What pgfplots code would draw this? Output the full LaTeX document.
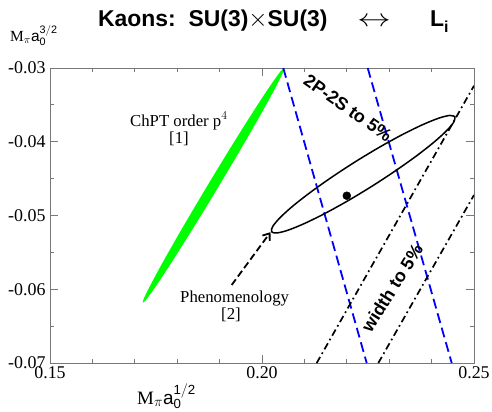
\documentclass[border=0pt]{standalone}
\usepackage{fontspec}
\setmainfont{Liberation Serif}
\setsansfont{Liberation Sans}
\usepackage{graphicx}
\usepackage{pgfplots}
\pgfplotsset{compat=1.18}
\usetikzlibrary{arrows.meta}
\definecolor{lgreen}{RGB}{0,255,0}
\definecolor{axgray}{RGB}{120,120,120}
\begin{document}
\begin{tikzpicture}[x=1bp,y=1bp]
\path[use as bounding box] (-50,-48) rectangle (442,363);
\begin{axis}[
 at={(0,0)}, anchor=south west,
 scale only axis, width=424bp, height=295bp,
 xmin=0.15, xmax=0.25, ymin=-0.07, ymax=-0.03,
 scaled ticks=false,
 xtick={0.15,0.20,0.25}, xticklabels={0.15,0.20,0.25},
 ytick={-0.07,-0.06,-0.05,-0.04,-0.03}, yticklabels={-0.07,-0.06,-0.05,-0.04,-0.03},
 minor x tick num=4, minor y tick num=1,
 tick align=inside, major tick length=8bp, minor tick length=4bp,
 axis line style={axgray, line width=0.9bp},
 every tick/.style={axgray, line width=0.9bp},
 tick label style={font=\fontsize{18}{20}\selectfont},
 yticklabel style={xshift=-1bp},
 clip mode=individual,
]
% green ellipse (ChPT order p^4)
\addplot[fill=lgreen, draw=none, smooth, tension=0.5] coordinates {
(0.20521,-0.03000) (0.20491,-0.03063) (0.20349,-0.03231) (0.20105,-0.03491)
(0.19776,-0.03826) (0.19384,-0.04213) (0.18956,-0.04626) (0.18521,-0.05037)
(0.18109,-0.05417) (0.17748,-0.05741) (0.17463,-0.05987) (0.17272,-0.06137)
(0.17189,-0.06182) (0.17219,-0.06119) (0.17362,-0.05952) (0.17605,-0.05691)
(0.17934,-0.05356) (0.18326,-0.04969) (0.18754,-0.04556) (0.19189,-0.04145)
(0.19601,-0.03765) (0.19962,-0.03441) (0.20248,-0.03196) (0.20438,-0.03045)
(0.20521,-0.03000)} -- cycle;
% blue dashed 2P-2S band
\addplot[blue, line width=1.8bp, dash pattern=on 10bp off 5bp] coordinates {(0.20502,-0.03) (0.22469,-0.07)};
\addplot[blue, line width=1.8bp, dash pattern=on 10bp off 5bp] coordinates {(0.22493,-0.03) (0.24474,-0.07)};
% dash-dot width band
\addplot[black, line width=1.7bp, dash pattern=on 7bp off 3.5bp on 1.7bp off 3.5bp] coordinates {(0.21290,-0.07) (0.25,-0.03240)};
\addplot[black, line width=1.7bp, dash pattern=on 7bp off 3.5bp on 1.7bp off 3.5bp] coordinates {(0.22743,-0.07) (0.25,-0.04722)};
% black ellipse (phenomenology)
\addplot[black, line width=1.5bp, smooth, tension=0.5] coordinates {
(0.24552,-0.03660) (0.24526,-0.03731) (0.24354,-0.03850) (0.24049,-0.04009)
(0.23631,-0.04197) (0.23127,-0.04402) (0.22574,-0.04610) (0.22008,-0.04806)
(0.21468,-0.04977) (0.20991,-0.05111) (0.20609,-0.05200) (0.20348,-0.05237)
(0.20226,-0.05220) (0.20252,-0.05149) (0.20424,-0.05030) (0.20729,-0.04871)
(0.21148,-0.04683) (0.21651,-0.04478) (0.22204,-0.04270) (0.22770,-0.04074)
(0.23310,-0.03903) (0.23787,-0.03769) (0.24169,-0.03680) (0.24430,-0.03643)
(0.24552,-0.03660)};
% dashed arrow
\addplot[black, line width=1.8bp, dash pattern=on 7bp off 3.5bp, -{Straight Barb[length=6bp,width=9bp]}] coordinates {(0.19285,-0.05942) (0.20200,-0.05226)};
% central value
\addplot[only marks, mark=*, mark size=4bp, black] coordinates {(0.2200,-0.04732)};
\end{axis}
% title
\node[anchor=base west, font=\sffamily\bfseries\fontsize{23}{26}\selectfont, inner sep=0] at (48,337) {Kaons:\ \ SU(3)$\times$SU(3)};
\node[anchor=base, font=\fontsize{23}{26}\selectfont, inner sep=0] at (324,337) {\scalebox{1.35}[1]{$\leftrightarrow$}};
\node[anchor=base west, font=\sffamily\bfseries\fontsize{23}{26}\selectfont, inner sep=0] at (380,337) {L\raisebox{-6bp}{\fontsize{16}{16}\selectfont i}};
% axis labels
\node[anchor=base west, inner sep=0, font=\fontsize{15.5}{18}\selectfont] at (-40,322) {M$_{\pi}$\textsf{a}$_{\mathsf{0}}^{\mathsf{3/2}}$};
\node[anchor=base west, inner sep=0, font=\fontsize{19}{22}\selectfont] at (87,-41) {M$_{\pi}$\textsf{a}$_{\mathsf{0}}^{\mathsf{1/2}}$};
% annotations
\node[anchor=base west, inner sep=0, font=\fontsize{16.8}{20}\selectfont] at (80,237) {ChPT order p$^{4}$};
\node[anchor=base, inner sep=0, font=\fontsize{16.8}{20}\selectfont] at (129,220) {[1]};
\node[anchor=base west, inner sep=0, font=\fontsize{16.8}{20}\selectfont] at (130,61) {Phenomenology};
\node[anchor=base, inner sep=0, font=\fontsize{16.8}{20}\selectfont] at (181,44) {[2]};
\node[rotate=-35, font=\sffamily\bfseries\fontsize{18}{20}\selectfont] at (298,255) {2P-2S to 5\%};
\node[rotate=58, font=\sffamily\bfseries\fontsize{18}{20}\selectfont] at (342,75) {width to 5\%};
\end{tikzpicture}
\end{document}
